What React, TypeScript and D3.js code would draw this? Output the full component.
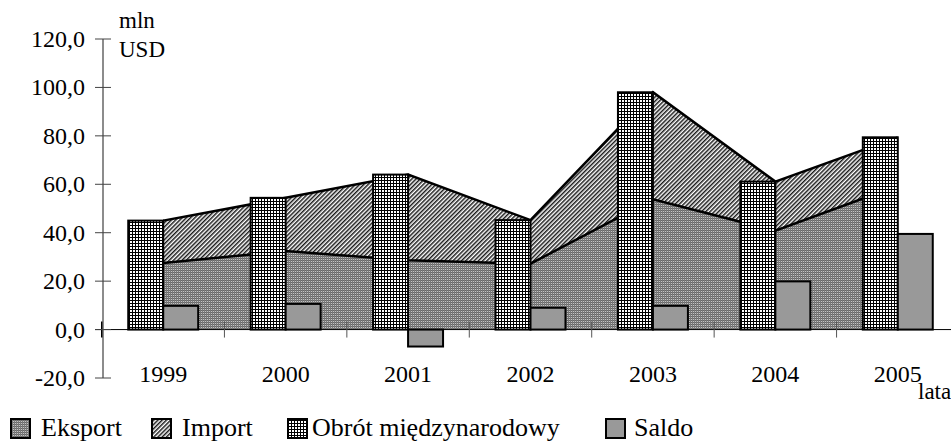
import * as d3 from "d3";

const YEARS = ["1999", "2000", "2001", "2002", "2003", "2004", "2005"];
const EKSPORT = [27.5, 32.4, 28.6, 27.2, 53.8, 40.8, 59.4];
const IMPORT = [17.5, 22.0, 35.4, 18.0, 44.2, 20.3, 20.0];
const OBROT = [45.0, 54.4, 64.0, 45.2, 98.0, 61.1, 79.4];
const SALDO = [9.8, 10.6, -7.0, 9.0, 9.8, 19.9, 39.5];
const Y_TICKS = [-20, 0, 20, 40, 60, 80, 100, 120];

const W = 951;
const H = 443;
const TXT = { fontFamily: "'Liberation Serif', 'Times New Roman', Times, serif" };

// legend entries: swatch left edge and text left edge
const LEGEND = [
  { label: "Eksport", fill: "url(#pat-eksport)", x: 11, tx: 41 },
  { label: "Import", fill: "url(#pat-import)", x: 152, tx: 182 },
  { label: "Obrót międzynarodowy", fill: "url(#pat-obrot)", x: 288, tx: 312 },
  { label: "Saldo", fill: "#999999", x: 606, tx: 634 },
];

export default function App() {
  const x = d3.scaleBand<string>().domain(YEARS).range([102, 959]).paddingInner(0).paddingOuter(0);
  const y = d3.scaleLinear().domain([-20, 120]).range([378, 39]);
  const inner = d3
    .scaleBand<string>()
    .domain(["obrot", "saldo"])
    .range([0, x.bandwidth()])
    .paddingInner(0)
    .paddingOuter(0.75);
  const cx = (yr: string) => (x(yr) ?? 0) + x.bandwidth() / 2;

  const rows = YEARS.map((yr, i) => ({ yr, e: EKSPORT[i], im: IMPORT[i] }));
  type Row = (typeof rows)[number];
  const areaE = d3.area<Row>().x((d) => cx(d.yr)).y0(y(0)).y1((d) => y(d.e));
  const areaI = d3.area<Row>().x((d) => cx(d.yr)).y0((d) => y(d.e)).y1((d) => y(d.e + d.im));
  const lineE = d3.line<Row>().x((d) => cx(d.yr)).y((d) => y(d.e));
  const lineT = d3.line<Row>().x((d) => cx(d.yr)).y((d) => y(d.e + d.im));

  const bw = inner.bandwidth();
  const boundaries = YEARS.map((yr) => x(yr) ?? 0);

  return (
    <svg width={W} height={H} style={{ position: "absolute", left: 0, top: 0, background: "#fff" }}>
      <defs>
        <pattern id="pat-eksport" width={2} height={2} patternUnits="userSpaceOnUse">
          <rect width={2} height={2} fill="#c4c4c4" />
          <rect width={2} height={1} fill="#666666" shapeRendering="crispEdges" />
          <rect width={1} height={2} fill="#7a7a7a" shapeRendering="crispEdges" />
        </pattern>
        <pattern id="pat-import" width={3} height={3} patternUnits="userSpaceOnUse" patternTransform="rotate(-45)">
          <rect width={3} height={3} fill="#ffffff" />
          <rect width={3} height={1.5} fill="#1a1a1a" />
        </pattern>
        <pattern id="pat-obrot" width={3} height={3} patternUnits="userSpaceOnUse">
          <rect width={3} height={3} fill="#ffffff" />
          <rect width={3} height={1} fill="#000000" shapeRendering="crispEdges" />
          <rect width={1} height={3} fill="#000000" shapeRendering="crispEdges" />
        </pattern>
      </defs>

      {/* stacked areas */}
      <path d={areaE(rows) ?? undefined} fill="url(#pat-eksport)" />
      <path d={areaI(rows) ?? undefined} fill="url(#pat-import)" />
      <path d={lineE(rows) ?? undefined} fill="none" stroke="#000" strokeWidth={2.5} />
      <path d={lineT(rows) ?? undefined} fill="none" stroke="#000" strokeWidth={2.5} />

      {/* x axis */}
      <line x1={95} x2={W} y1={y(0)} y2={y(0)} stroke="#000" strokeWidth={1} />
      {boundaries.map((b, i) => (
        <line key={i} x1={b} x2={b} y1={y(0) - 8} y2={y(0) + 8} stroke={i === 0 ? "#000" : "#555"} strokeWidth={i === 0 ? 2 : 1} />
      ))}

      {/* bars */}
      {YEARS.map((yr, i) => {
        const x0 = x(yr) ?? 0;
        const xo = x0 + (inner("obrot") ?? 0);
        const xs = x0 + (inner("saldo") ?? 0);
        return (
          <g key={yr}>
            <rect
              x={xo}
              y={y(Math.max(0, OBROT[i]))}
              width={bw}
              height={Math.abs(y(OBROT[i]) - y(0))}
              fill="url(#pat-obrot)"
              stroke="#000"
              strokeWidth={2}
            />
            <rect
              x={xs}
              y={y(Math.max(0, SALDO[i]))}
              width={bw}
              height={Math.abs(y(SALDO[i]) - y(0))}
              fill="#999999"
              stroke="#000"
              strokeWidth={2}
            />
          </g>
        );
      })}

      {/* y axis */}
      <line x1={103} x2={103} y1={y(120)} y2={y(-20)} stroke="#666" strokeWidth={1.5} />
      {Y_TICKS.map((t) => (
        <g key={t}>
          <line x1={95} x2={111} y1={y(t)} y2={y(t)} stroke="#444" strokeWidth={1} />
          <text x={85} y={y(t) + 8} textAnchor="end" fontSize={24} fill="#000" style={TXT}>
            {d3.format(".1f")(t).replace(".", ",").replace("−", "-")}
          </text>
        </g>
      ))}
      <text x={119} y={28} fontSize={23} fill="#000" style={TXT}>mln</text>
      <text x={119} y={57} fontSize={23} fill="#000" style={TXT}>USD</text>

      {/* x labels */}
      {YEARS.map((yr) => (
        <text key={yr} x={cx(yr)} y={382} textAnchor="middle" fontSize={24} fill="#000" style={TXT}>
          {yr}
        </text>
      ))}
      <text x={918} y={399} fontSize={23} fill="#000" style={TXT}>lata</text>

      {/* legend */}
      {LEGEND.map((l) => (
        <g key={l.label}>
          <rect x={l.x} y={419} width={19} height={19} fill={l.fill} stroke="#000" strokeWidth={2} />
          <text x={l.tx} y={436} fontSize={26} fill="#000" style={TXT}>
            {l.label}
          </text>
        </g>
      ))}
    </svg>
  );
}
